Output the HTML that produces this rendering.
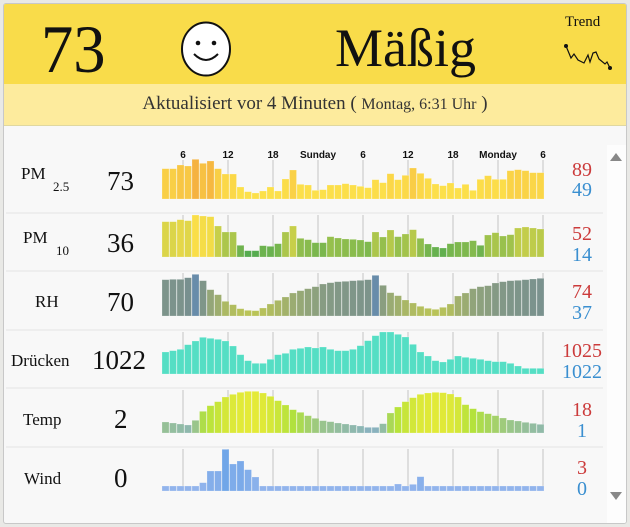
<!DOCTYPE html>
<html><head><meta charset="utf-8">
<style>
body{margin:0;width:630px;height:527px;background:#e9e9e6;position:relative;overflow:hidden;font-family:"Liberation Serif",serif;}
.card{position:absolute;left:3px;top:3px;width:622px;height:519px;background:#f8f8f8;border:1px solid #c8c8c8;border-radius:3px;overflow:hidden;}
.hdr{position:absolute;left:0;top:0;width:622px;height:80px;background:#f9dc4a;}
.sub{position:absolute;left:0;top:80px;width:622px;height:41px;background:#fdeb9d;border-bottom:1px solid #e0d8a0;text-align:center;line-height:40px;font-size:19px;color:#333;}
.t{position:absolute;white-space:nowrap;}
</style></head><body>
<div class="card">
<div class="hdr">
<div class="t" style="left:37px;top:9px;font-size:68px;line-height:72px;color:#111;transform:scaleX(0.95);transform-origin:left">73</div>
<svg class="t" style="left:176px;top:17px" width="52" height="56"><ellipse cx="26" cy="28" rx="24" ry="26.5" fill="#fff" stroke="#111" stroke-width="2"/><circle cx="18" cy="22" r="2.3" fill="#111"/><circle cx="34" cy="22" r="2.3" fill="#111"/><path d="M14 33 Q26 45 38 33" fill="none" stroke="#111" stroke-width="2"/></svg>
<div class="t" style="left:331px;top:13px;font-size:54px;line-height:62px;color:#111">Mäßig</div>
<div class="t" style="left:561px;top:10px;font-size:15px;color:#111">Trend</div>
<svg class="t" style="left:555px;top:35px" width="60" height="35"><polyline points="7,7 12,19 15,15 19,21 25,24 29,16 31,23 34,14 37,13 40,20 46,25 48,23 51,29" fill="none" stroke="#111" stroke-width="1.2"/><circle cx="7" cy="7" r="2" fill="#111"/><circle cx="51" cy="29" r="2" fill="#111"/></svg>
</div>
<div class="sub">Aktualisiert vor 4 Minuten ( <span style="font-size:16px">Montag, 6:31 Uhr</span> )</div>
<div style="position:absolute;left:603px;top:141px;width:19px;height:378px;background:#fdfdfd"></div>
<svg class="t" style="left:605px;top:147px" width="16" height="12"><polygon points="1,10 7,2 13,10" fill="#888"/></svg>
<svg class="t" style="left:605px;top:486px" width="16" height="12"><polygon points="1,2 7,10 13,2" fill="#888"/></svg>
</div>
<svg id="ch" style="position:absolute;left:0;top:0" width="630" height="527" font-family="Liberation Sans, sans-serif">
<g font-size="10" font-weight="bold" fill="#111" text-anchor="middle">
<text x="183" y="158">6</text><text x="228" y="158">12</text><text x="273" y="158">18</text><text x="318" y="158" style="font-weight:600">Sunday</text><text x="363" y="158">6</text><text x="408" y="158">12</text><text x="453" y="158">18</text><text x="498" y="158" style="font-weight:600">Monday</text><text x="543" y="158">6</text>
</g>
<g font-family="Liberation Serif, serif" fill="#111">
<text x="21" y="179" font-size="17">PM</text><text x="53" y="191" font-size="13">2.5</text>
<text x="107" y="190" font-size="27">73</text>
<text x="23" y="243" font-size="17">PM</text><text x="56" y="255" font-size="13">10</text>
<text x="107" y="252" font-size="27">36</text>
<text x="35" y="307" font-size="17">RH</text>
<text x="107" y="311" font-size="27">70</text>
<text x="11" y="366" font-size="17">Drücken</text>
<text x="92" y="369" font-size="27">1022</text>
<text x="23" y="425" font-size="17">Temp</text>
<text x="114" y="428" font-size="27">2</text>
<text x="24" y="484" font-size="17">Wind</text>
<text x="114" y="487" font-size="27">0</text>
</g>
<g font-family="Liberation Serif, serif" font-size="20" text-anchor="middle">
<text x="582" y="176" fill="#cc3b3b">89</text><text x="582" y="196" fill="#3a8fd0">49</text>
<text x="582" y="240" fill="#cc3b3b">52</text><text x="582" y="261" fill="#3a8fd0">14</text>
<text x="582" y="298" fill="#cc3b3b">74</text><text x="582" y="319" fill="#3a8fd0">37</text>
<text x="582" y="357" fill="#cc3b3b">1025</text><text x="582" y="378" fill="#3a8fd0">1022</text>
<text x="582" y="416" fill="#cc3b3b">18</text><text x="582" y="437" fill="#3a8fd0">1</text>
<text x="582" y="474" fill="#cc3b3b">3</text><text x="582" y="495" fill="#3a8fd0">0</text>
</g>
<g id="bars"></g>
</svg>
<script>
var rows=[
{base:199,zb:177,top:160,lo:[252,224,74],hi:[245,178,64],d:[86,86,75,78,58,70,63,86,102,102,141,155,159,153,141,153,117,90,133,135,151,149,135,135,131,135,139,143,119,128,101,119,106,84,100,115,132,137,129,144,133,151,118,107,118,118,92,89,92,98,98]},
{base:257,zb:352,top:215,lo:[86,172,80],hi:[250,222,72],d:[246,246,240,243,226,229,231,259,277,277,317,333,333,318,320,312,277,259,296,300,309,309,291,295,298,299,301,306,277,292,271,291,283,270,296,313,322,325,312,307,307,303,317,286,279,289,285,265,262,265,268]},
{base:316,zb:137,top:273,lo:[186,196,88],hi:[112,138,150],pk:[104,140,170],d:[28,27,27,22,12,31,58,73,93,103,115,120,121,113,101,90,80,68,61,55,49,41,37,34,33,31,30,28,15,45,67,76,89,98,108,114,117,111,101,77,68,55,49,46,38,34,31,30,28,26,24]},
{base:374,zb:312,top:332,lo:[85,222,196],hi:[85,222,196],d:[246,242,238,224,213,202,205,208,213,228,254,272,280,280,268,254,250,238,235,231,234,231,238,242,242,238,227,212,197,186,186,193,201,223,246,258,272,276,268,258,262,265,268,272,275,275,280,288,295,295,295]},
{base:433,zb:128,top:390,temp:1,d:[95,98,101,104,90,63,46,34,20,12,6,3,3,8,18,31,44,58,66,76,84,91,94,98,101,104,107,111,111,100,68,50,34,22,12,8,6,7,11,20,43,55,64,70,76,83,89,92,96,99,102]},
{base:491,zb:302,top:449,lo:[146,180,236],hi:[112,166,232],d:[287,287,287,287,287,277,242,242,177,221,212,238,260,287,287,287,287,287,287,287,287,287,287,287,287,287,287,287,287,287,287,281,287,282,259,287,287,287,287,287,287,287,287,287,287,287,287,287,287,287,287]}
];
function mix(a,b,t){return 'rgb('+a.map(function(v,i){return Math.round(v+(b[i]-v)*t)}).join(',')+')';}
var s='';
rows.forEach(function(r,ri){
 [183,228,273,318,363,408,453,498,543].forEach(function(x){s+='<line x1="'+x+'" x2="'+x+'" y1="'+r.top+'" y2="'+r.base+'" stroke="#c4c4c4" stroke-width="1"/>';});
 var hs=r.d.map(function(v){return (r.zb-v)/3;});
 var mx=Math.max.apply(null,hs),mn=Math.min.apply(null,hs);
 hs.forEach(function(h,i){
  var t=(h-mn)/((mx-mn)||1),c;
  if(r.temp){ c=t<0.5?mix([138,178,190],[178,226,60],t*2):mix([178,226,60],[228,234,56],(t-0.5)*2); }
  else if(r.pk&&t>0.97) c=mix(r.lo,r.pk,1);
  else c=mix(r.lo,r.hi,r.pk?Math.pow(t,1.2):(ri==0?Math.pow(t,3):t));
  var x=162+i*7.5;
  s+='<rect x="'+x+'" y="'+(r.base-h)+'" width="7" height="'+h+'" fill="'+c+'" stroke="rgba(255,255,255,0.35)" stroke-width="0.6"/>';
 });
 if(ri<5) s+='<line x1="6" x2="603" y1="'+(r.base+14)+'" y2="'+(r.base+14)+'" stroke="#e3e3e3"/>';
});
document.getElementById('bars').innerHTML=s;
</script>
</body></html>
